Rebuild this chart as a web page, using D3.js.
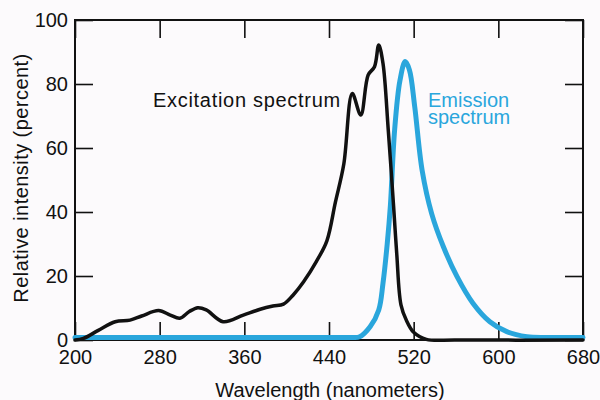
<!DOCTYPE html>
<html>
<head>
<meta charset="utf-8">
<script src="https://cdn.jsdelivr.net/npm/d3@7"></script>
<style>
  html, body { margin: 0; padding: 0; background: #fcfafc; }
  svg { display: block; }
  text { font-family: "Liberation Sans", Arial, Helvetica, sans-serif; }
</style>
</head>
<body>
<svg id="chart" width="600" height="400"></svg>
<script>
// ---- Data ----
const xTickValues = [200, 280, 360, 440, 520, 600, 680];
const yTickValues = [0, 20, 40, 60, 80, 100];

const excitationWl  = [200, 208, 222, 238, 252, 263, 279, 290, 299, 308, 316, 324, 340, 359, 375, 387, 397, 406, 416, 428, 438, 446, 454, 462, 470, 477, 483, 487, 491, 496, 501, 504, 508, 513, 520, 532, 560, 680];
const excitationVal = [0, 0.5, 3, 5.7, 6.2, 7.5, 9.2, 7.8, 6.8, 8.9, 10.1, 9.4, 5.7, 7.8, 9.6, 10.6, 11.2, 14, 18.2, 24.5, 31, 43, 55, 77, 70.3, 82.8, 85.4, 92.2, 86.5, 65.6, 42, 27, 11, 6.25, 2.4, 0.2, 0, 0];

const emissionWl  = [200, 300, 400, 460, 469, 479, 487, 491, 495, 498, 502, 507, 512, 516, 521, 528, 537, 548, 561, 576, 592, 608, 627, 650, 680];
const emissionVal = [0.8, 0.8, 0.8, 0.8, 1, 4.2, 9.4, 17.7, 30, 42, 65.6, 81, 87, 84.4, 72.9, 53, 39.5, 29.2, 19.8, 11.5, 5.7, 2.6, 1, 0.8, 0.8];

const xTitle = "Wavelength (nanometers)";
const yTitle = "Relative intensity (percent)";
const excitationLabel = "Excitation spectrum";
const emissionLabel = ["Emission", "spectrum"];

// ---- Layout ----
const svg = d3.select("#chart");
const mLeft = 75, mRight = 583, mTop = 20, mBottom = 340;
const black = "#111111", blue = "#2aa6dc";

const x = d3.scaleLinear().domain([200, 680]).range([mLeft, mRight]);
const y = d3.scaleLinear().domain([0, 100]).range([mBottom, mTop]);

svg.append("rect").attr("width", 600).attr("height", 400).attr("fill", "#fcfafc");

// Axes with inward ticks
const tickLen = 18;
const gB = svg.append("g").attr("transform", `translate(0,${mBottom})`)
  .call(d3.axisBottom(x).tickValues(xTickValues).tickSizeInner(-tickLen).tickSizeOuter(0).tickPadding(10).tickFormat(d3.format("d")));
const gT = svg.append("g").attr("transform", `translate(0,${mTop})`)
  .call(d3.axisTop(x).tickValues(xTickValues).tickSizeInner(-tickLen).tickSizeOuter(0).tickFormat(""));
const gL = svg.append("g").attr("transform", `translate(${mLeft},0)`)
  .call(d3.axisLeft(y).tickValues(yTickValues).tickSizeInner(-tickLen).tickSizeOuter(0).tickPadding(7).tickFormat(d3.format("d")));
const gR = svg.append("g").attr("transform", `translate(${mRight},0)`)
  .call(d3.axisRight(y).tickValues(yTickValues).tickSizeInner(-tickLen).tickSizeOuter(0).tickFormat(""));

[gB, gT, gL, gR].forEach(g => {
  g.select(".domain").remove();
  g.selectAll(".tick line").attr("stroke", black).attr("stroke-width", 1.6);
  g.selectAll(".tick text").attr("fill", black).attr("font-size", 20)
    .attr("font-family", '"Liberation Sans", Arial, Helvetica, sans-serif');
});

// Frame
svg.append("rect")
  .attr("x", mLeft).attr("y", mTop)
  .attr("width", mRight - mLeft).attr("height", mBottom - mTop)
  .attr("fill", "none").attr("stroke", black).attr("stroke-width", 2);

// Curves
const line = d3.line().x(d => x(d[0])).y(d => y(d[1])).curve(d3.curveCatmullRom.alpha(0.5));

const emission = emissionWl.map((w, i) => [w, emissionVal[i]]);
const excitation = excitationWl.map((w, i) => [w, excitationVal[i]]);

svg.append("path").datum(emission)
  .attr("d", line).attr("fill", "none").attr("stroke", blue)
  .attr("stroke-width", 5).attr("stroke-linejoin", "round").attr("stroke-linecap", "round");

svg.append("path").datum(excitation)
  .attr("d", line).attr("fill", "none").attr("stroke", black)
  .attr("stroke-width", 3.5).attr("stroke-linejoin", "round").attr("stroke-linecap", "round");

// Labels
svg.append("text").attr("x", 153).attr("y", 107)
  .attr("font-size", 20).attr("letter-spacing", 0.7).attr("fill", black)
  .text(excitationLabel);

svg.append("text").attr("fill", blue).attr("font-size", 20)
  .selectAll("tspan").data(emissionLabel).join("tspan")
  .attr("x", 428).attr("y", (d, i) => 107 + i * 16.5)
  .text(d => d);

svg.append("text").attr("x", 330).attr("y", 397)
  .attr("text-anchor", "middle").attr("font-size", 20).attr("fill", black)
  .text(xTitle);

svg.append("text")
  .attr("transform", "translate(28,178) rotate(-90)")
  .attr("text-anchor", "middle").attr("font-size", 20).attr("letter-spacing", 0.45).attr("fill", black)
  .text(yTitle);
</script>
</body>
</html>
